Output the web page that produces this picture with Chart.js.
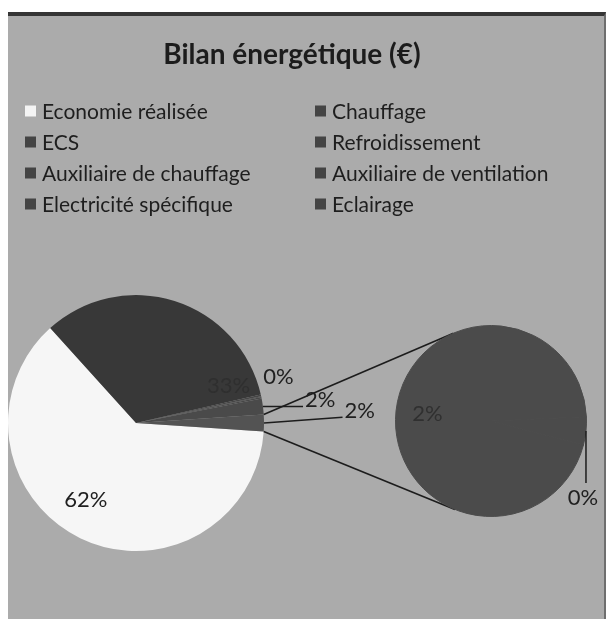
<!DOCTYPE html>
<html>
<head>
<meta charset="utf-8">
<script src="https://cdn.jsdelivr.net/npm/chart.js@4.4.1/dist/chart.umd.min.js"></script>
<style>
  html, body { margin: 0; padding: 0; background: #fff; }
  body { width: 608px; height: 619px; position: relative; overflow: hidden; }
  #frame { position: absolute; left: 8px; top: 12px; width: 598px; height: 607px;
           background: #ababab; border-top: 4px solid #353535; border-right: 2px solid #6e6e6e;
           box-sizing: border-box; }
  #mainChart { position: absolute; left: 0; top: 0; }
  #subChart { position: absolute; left: 380px; top: 300px; }
</style>
</head>
<body>
<div id="frame"></div>
<canvas id="mainChart" width="584" height="619"></canvas>
<canvas id="subChart" width="228" height="240"></canvas>
<script>
// ---- data (share of the bill, %) ----
const categories = ['Economie réalisée', 'Chauffage', 'ECS', 'Refroidissement',
  'Auxiliaire de chauffage', 'Auxiliaire de ventilation', 'Electricité spécifique', 'Eclairage'];
const mainValues = [62, 33, 0.2, 0.1, 0.2, 2];   // first six categories, main pie
const subValues = [2, 0.1];                       // last two, second pie
const otherLabel = 'Autre';

const colors = ['#f6f6f6', '#383838', '#454545', '#434343', '#474747', '#4a4a4a', '#4b4b4b', '#4b4b4b'];
const otherColor = '#535353';

const sum = arr => arr.reduce((a, b) => a + b, 0);
const otherValue = sum(subValues);
const grandTotal = sum(mainValues) + otherValue;

function pctLabel(v) { return Math.round(v / grandTotal * 100) + '%'; }

// degrees clockwise from 12 o'clock -> canvas point
function polar(x, y, r, deg) {
  const a = (deg - 90) * Math.PI / 180;
  return { x: x + r * Math.cos(a), y: y + r * Math.sin(a) };
}

Chart.defaults.font.family = 'Lato';
Chart.defaults.color = '#202020';

// percentage labels, placed like the Excel original
function makeSliceLabels(place) {
  return {
    id: 'sliceLabels',
    afterDatasetsDraw(chart) {
      const ctx = chart.ctx;
      const values = chart.data.datasets[0].data;
      ctx.save();
      ctx.font = '22px Lato';
      ctx.textAlign = 'center';
      ctx.textBaseline = 'middle';
      ctx.strokeStyle = '#1c1c1c';
      ctx.lineWidth = 1.5;
      chart.getDatasetMeta(0).data.forEach((arc, i) => {
        const pos = place[i];
        if (!pos) return;
        const { x, y, startAngle, endAngle, outerRadius } =
          arc.getProps(['x', 'y', 'startAngle', 'endAngle', 'outerRadius'], true);
        const midDeg = (startAngle + endAngle) / 2 * 180 / Math.PI + 90;
        const edge = polar(x, y, outerRadius, midDeg);
        const text = pctLabel(values[i]);
        let p;
        if (pos.drop) {
          p = { x: edge.x - 3, y: edge.y + pos.drop };
          ctx.beginPath();
          ctx.moveTo(edge.x, edge.y);
          ctx.lineTo(edge.x, p.y - 15);
          ctx.stroke();
        } else {
          p = polar(x, y, outerRadius * pos.r, pos.angle !== undefined ? pos.angle : midDeg);
          if (pos.leader) {
            const w = ctx.measureText(text).width;
            ctx.beginPath();
            ctx.moveTo(edge.x, edge.y);
            ctx.lineTo(p.x - w / 2 - 2, p.y + 6);
            ctx.stroke();
          }
        }
        ctx.fillStyle = pos.color || '#202020';
        ctx.fillText(text, p.x, p.y);
      });
      ctx.restore();
    }
  };
}

// ---- second pie (Electricité spécifique + Eclairage) ----
const eclAngle = subValues[subValues.length - 1] / otherValue * 360;
const subChart = new Chart(document.getElementById('subChart'), {
  type: 'pie',
  data: {
    labels: categories.slice(mainValues.length),
    datasets: [{
      data: subValues,
      backgroundColor: colors.slice(mainValues.length),
      borderColor: colors.slice(mainValues.length),
      borderWidth: 1
    }]
  },
  options: {
    responsive: false,
    animation: false,
    rotation: 96 + eclAngle / 2,
    layout: { padding: { left: 15, top: 25, right: 21, bottom: 23 } },
    plugins: { legend: { display: false }, tooltip: { enabled: false } }
  },
  plugins: [makeSliceLabels([
    { r: 0.67, color: '#303030' },
    { drop: 67 }
  ])]
});

// pie box inside the main canvas
const mainPieBox = { left: 8, top: 295, size: 256 };

const placePie = {
  id: 'placePie',
  afterLayout(chart) {
    Object.assign(chart.chartArea, {
      left: mainPieBox.left, top: mainPieBox.top,
      right: mainPieBox.left + mainPieBox.size, bottom: mainPieBox.top + mainPieBox.size,
      width: mainPieBox.size, height: mainPieBox.size
    });
  }
};

// lines from the "Autre" slice to the second pie
const connectors = {
  id: 'connectors',
  afterDatasetsDraw(chart) {
    const meta = chart.getDatasetMeta(0);
    const other = meta.data[meta.data.length - 1];
    const o = other.getProps(['x', 'y', 'startAngle', 'endAngle', 'outerRadius'], true);
    const subCanvas = subChart.canvas;
    const s = subChart.getDatasetMeta(0).data[0].getProps(['x', 'y', 'outerRadius'], true);
    const cx = s.x + subCanvas.offsetLeft, cy = s.y + subCanvas.offsetTop, R = s.outerRadius;
    const ends = [o.startAngle, o.endAngle].map(a => ({
      x: o.x + o.outerRadius * Math.cos(a), y: o.y + o.outerRadius * Math.sin(a)
    }));
    const ctx = chart.ctx;
    ctx.save();
    ctx.strokeStyle = '#1c1c1c';
    ctx.lineWidth = 1.6;
    ends.forEach((p, k) => {
      const d = Math.hypot(p.x - cx, p.y - cy);
      const phi = Math.atan2(p.y - cy, p.x - cx);
      const alpha = Math.acos(R / d);
      const t = k === 0 ? phi + alpha : phi - alpha;
      ctx.beginPath();
      ctx.moveTo(p.x, p.y);
      ctx.lineTo(cx + R * Math.cos(t), cy + R * Math.sin(t));
      ctx.stroke();
    });
    ctx.restore();
  }
};

// two-column legend like the original
const legendCols = [25, 315];
const legendRows = [111, 142, 173, 204];
const twoColLegend = {
  id: 'twoColLegend',
  afterDraw(chart) {
    const ctx = chart.ctx;
    ctx.save();
    ctx.font = '21px Lato';
    ctx.textBaseline = 'middle';
    categories.forEach((name, i) => {
      const x = legendCols[i % 2], y = legendRows[Math.floor(i / 2)];
      ctx.fillStyle = i === 0 ? '#f4f4f4' : '#444444';
      ctx.fillRect(x, y - 5.5, 11, 11);
      ctx.fillStyle = '#1e1e1e';
      ctx.fillText(name, x + 17, y + 1);
    });
    ctx.restore();
  }
};

new Chart(document.getElementById('mainChart'), {
  type: 'pie',
  data: {
    labels: categories.slice(0, mainValues.length).concat(otherLabel),
    datasets: [{
      data: mainValues.concat(otherValue),
      backgroundColor: colors.slice(0, mainValues.length).concat(otherColor),
      borderWidth: 0
    }]
  },
  options: {
    responsive: false,
    animation: false,
    rotation: 90 + otherValue / grandTotal * 180,
    plugins: {
      legend: { display: false },
      tooltip: { enabled: false },
      title: {
        display: true,
        text: 'Bilan énergétique (€)',
        color: '#1c1c1c',
        font: { family: 'Lato', size: 28, weight: 'bold' },
        padding: { top: 38, bottom: 10 }
      }
    }
  },
  plugins: [placePie, connectors, twoColLegend, makeSliceLabels([
    { r: 0.72, angle: 213 },
    { r: 0.78, angle: 68, color: '#2f2f2f' },
    { r: 1.17, angle: 72 },
    null, null,
    { r: 1.45, angle: 83, leader: true },
    { r: 1.75, angle: 87, leader: true }
  ])]
});
</script>
</body>
</html>
